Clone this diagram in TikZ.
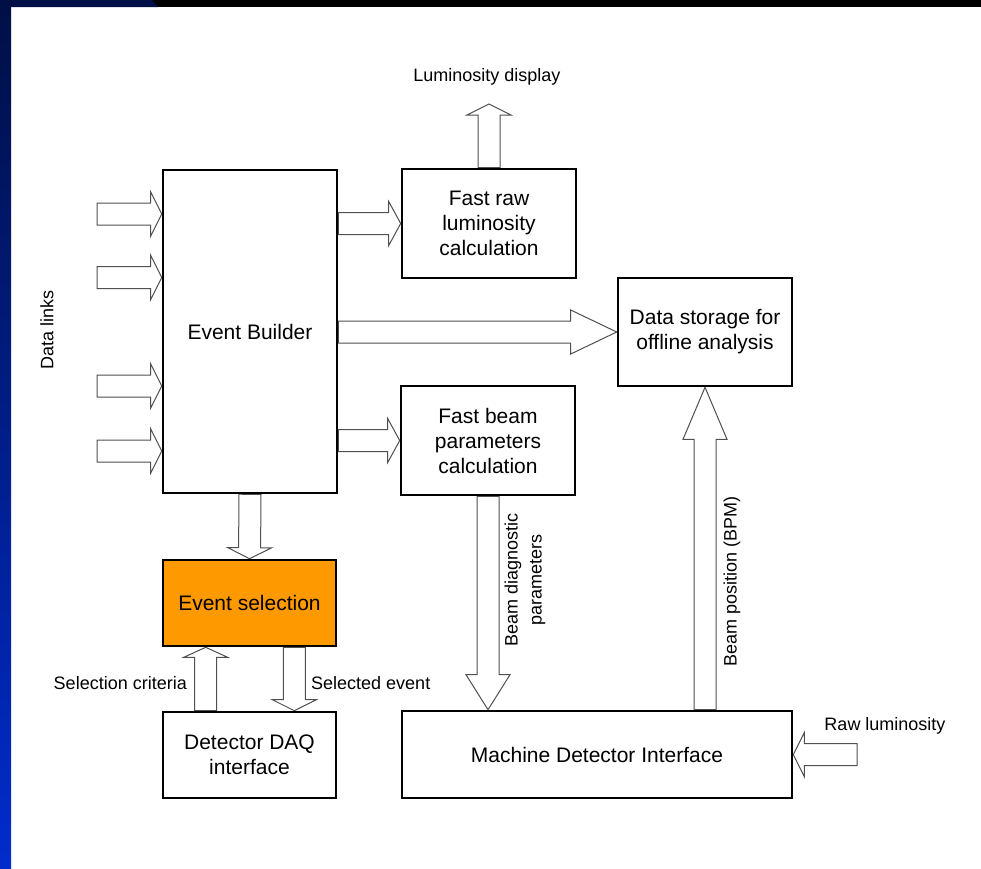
\documentclass[tikz,border=0pt]{standalone}
\usepackage{fontspec}
\setmainfont{Liberation Sans}
\usetikzlibrary{calc}
\definecolor{navy}{HTML}{000F45}
\definecolor{frameblue}{HTML}{002CCC}
\definecolor{esorange}{HTML}{FF9900}
\definecolor{arrowgray}{HTML}{505050}
\pgfdeclarelayer{bg}
\pgfsetlayers{bg,main}
\tikzset{
  box/.style={draw=black, line width=2.6pt, fill=white, inner sep=0pt, align=center,
    font=\fontsize{21}{25}\selectfont},
  lbl/.style={font=\fontsize{18}{24}\selectfont, inner sep=0pt, align=center},
  arrowline/.style={draw=arrowgray, line width=1pt, fill=white, line join=miter},
}
% block arrow from #1 to #2 with head length #3
\newcommand\barrow[3]{%
  \path (#1); \pgfgetlastxy{\barax}{\baray}%
  \path (#2); \pgfgetlastxy{\barbx}{\barby}%
  \pgfmathsetmacro\barang{atan2(\barby-\baray,\barbx-\barax)}%
  \pgfmathsetmacro\barlen{veclen(\barbx-\barax,\barby-\baray)}%
  \begin{scope}[shift={(\barax,\baray)},rotate=\barang]
    \draw[arrowline] (0,-11) -- (\barlen-#3,-11) -- (\barlen-#3,-22) -- (\barlen,0)
      -- (\barlen-#3,22) -- (\barlen-#3,11) -- (0,11) -- cycle;
  \end{scope}}
\begin{document}
\begin{tikzpicture}[x=1pt,y=1pt]
\useasboundingbox (0,0) rectangle (981,-868);
% frame
\fill[black] (0,0) rectangle (981,-7);
\fill[navy] (0,0) -- (152,0) -- (158,-7) -- (0,-7) -- cycle;
\shade[top color=navy, bottom color=frameblue] (0,0) rectangle (11,-868);

% boxes
\node[box, minimum width=174pt, minimum height=323pt] (EB) at (250,-331.5) {Event Builder};
\node[box, minimum width=174pt, minimum height=109pt] (FR) at (489,-223.5) {Fast raw\\luminosity\\calculation};
\node[box, minimum width=174pt, minimum height=108pt] (DS) at (705,-332) {Data storage for\\offline analysis};
\node[box, minimum width=174pt, minimum height=109pt] (FB) at (488,-440.5) {Fast beam\\parameters\\calculation};
\node[box, fill=esorange, minimum width=173pt, minimum height=86pt] (ES) at (249.5,-603) {Event selection};
\node[box, minimum width=173pt, minimum height=86pt] (DAQ) at (249.5,-755) {Detector DAQ\\interface};
\node[box, minimum width=390pt, minimum height=87pt] (MDI) at (597,-754.5) {Machine Detector Interface};

% free ends
\coordinate (in1) at (97,-214);
\coordinate (in2) at (97,-277.5);
\coordinate (in3) at (97,-386);
\coordinate (in4) at (97,-451);
\coordinate (ld) at (489,-104);
\coordinate (rl) at (857,-754.5);

% labels
\node[lbl] (ldtext) at (487,-77) {Luminosity display};
\node[lbl, rotate=90] (dltext) at (47,-330) {Data links};
\node[lbl, anchor=east] (sctext) at (187,-683) {Selection criteria};
\node[lbl, anchor=west] (setext) at (311,-683) {Selected event};
\node[lbl, rotate=90] (bdtext) at (525,-580) {Beam diagnostic\\parameters};
\node[lbl, rotate=90] (bptext) at (732,-581) {Beam position (BPM)};
\node[lbl] (rltext) at (885,-726) {Raw luminosity};

% connectors
\begin{pgfonlayer}{bg}
\barrow{in1}{in1 -| EB.west}{11}
\barrow{in2}{in2 -| EB.west}{11}
\barrow{in3}{in3 -| EB.west}{11}
\barrow{in4}{in4 -| EB.west}{11}
\barrow{EB.east |- FR.west}{FR.west}{12}
\barrow{EB.east |- DS.west}{DS.west}{46}
\barrow{EB.east |- FB.west}{FB.west}{12}
\barrow{FR.north}{ld}{11}
\barrow{EB.south}{ES.north}{11}
\barrow{[xshift=44pt]DAQ.north west}{[xshift=44pt]ES.south west}{10}
\barrow{[xshift=-43pt]ES.south east}{[xshift=-43pt]DAQ.north east}{11}
\barrow{FB.south}{FB.south |- MDI.north}{35}
\barrow{DS.south |- MDI.north}{DS.south}{52}
\barrow{rl}{MDI.east}{11}
\end{pgfonlayer}
\end{tikzpicture}
\end{document}
